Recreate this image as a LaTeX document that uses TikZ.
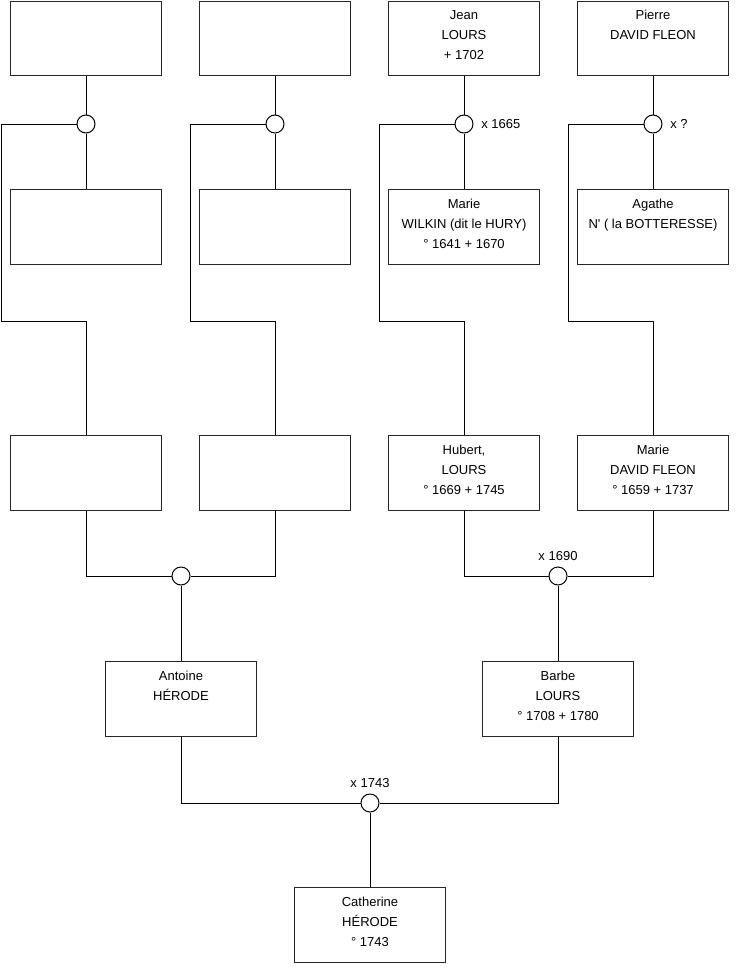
\documentclass[tikz,border=0pt]{standalone}
\usepackage{fontspec}
\setmainfont{Liberation Sans}
\usetikzlibrary{positioning}

\begin{document}
\begin{tikzpicture}[x=0.75pt,y=-0.75pt,line width=0.75pt,
  person/.style={draw=black!85,minimum width=113pt,minimum height=56pt,inner sep=0pt},
  union/.style={draw,circle,fill=white,minimum size=13.5pt,inner sep=0pt},
  names/.style={align=center,inner sep=0pt,font=\fontsize{9.75}{15}\selectfont},
  note/.style={inner sep=0pt,font=\fontsize{9.75}{11}\selectfont}]
  \useasboundingbox (0,0) rectangle (740,975);
  % great-grandparents
  \node[person] (p1) at (86,38.5) {};
  \node[person] (p2) at (275,38.5) {};
  \node[person] (p3) at (464,38.5) {};
  \node[person] (p4) at (653,38.5) {};
  \node[names,below=7pt of p3.north] (t3) {Jean\\LOURS\\+ 1702};
  \node[names,below=7pt of p4.north] (t4) {Pierre\\DAVID FLEON};
  \node[union] (u1) at (86,124) {};
  \node[union] (u2) at (275,124) {};
  \node[union] (u3) at (464,124) {};
  \node[union] (u4) at (653,124) {};
  \node[note,right=5.5pt of u3] (x3) {x 1665};
  \node[note,right=5.5pt of u4] (x4) {x ?};
  \node[person] (m1) at (86,227) {};
  \node[person] (m2) at (275,227) {};
  \node[person] (m3) at (464,227) {};
  \node[person] (m4) at (653,227) {};
  \node[names,below=7pt of m3.north] (s3) {Marie\\WILKIN (dit le HURY)\\° 1641 + 1670};
  \node[names,below=7pt of m4.north] (s4) {Agathe\\N\textquotesingle{} ( la BOTTERESSE)};
  % grandparents
  \node[person] (g1) at (86,473) {};
  \node[person] (g2) at (275,473) {};
  \node[person] (g3) at (464,473) {};
  \node[person] (g4) at (653,473) {};
  \node[names,below=7pt of g3.north] (h3) {Hubert,\\LOURS\\° 1669 + 1745};
  \node[names,below=7pt of g4.north] (h4) {Marie\\DAVID FLEON\\° 1659 + 1737};
  \node[union] (u5) at (181,576) {};
  \node[union] (u6) at (558,576) {};
  \node[note,above=4pt of u6] (x6) {x 1690};
  % parents
  \node[person] (antoine) at (181,699) {};
  \node[person] (barbe) at (558,699) {};
  \node[names,below=7pt of antoine.north] (ta) {Antoine\\HÉRODE};
  \node[names,below=7pt of barbe.north] (tb) {Barbe\\LOURS\\° 1708 + 1780};
  \node[union] (u7) at (370,803) {};
  \node[note,above=4pt of u7] (x7) {x 1743};
  \node[person] (catherine) at (370,925) {};
  \node[names,below=7pt of catherine.north] (tc) {Catherine\\HÉRODE\\° 1743};
  % bends of the lines down to the children
  \coordinate (k1) at (1,321);
  \coordinate (k2) at (190,321);
  \coordinate (k3) at (379,321);
  \coordinate (k4) at (568,321);
  \foreach \i in {1,2,3,4} {
    \draw (p\i.south) -- (u\i.north);
    \draw (u\i.south) -- (m\i.north);
    \draw (u\i.west) -| (k\i) -| (g\i.north);
  }
  \draw (g1.south) |- (u5.west);
  \draw (g2.south) |- (u5.east);
  \draw (g3.south) |- (u6.west);
  \draw (g4.south) |- (u6.east);
  \draw (u5.south) -- (antoine.north);
  \draw (u6.south) -- (barbe.north);
  \draw (antoine.south) |- (u7.west);
  \draw (barbe.south) |- (u7.east);
  \draw (u7.south) -- (catherine.north);
\end{tikzpicture}
\end{document}
